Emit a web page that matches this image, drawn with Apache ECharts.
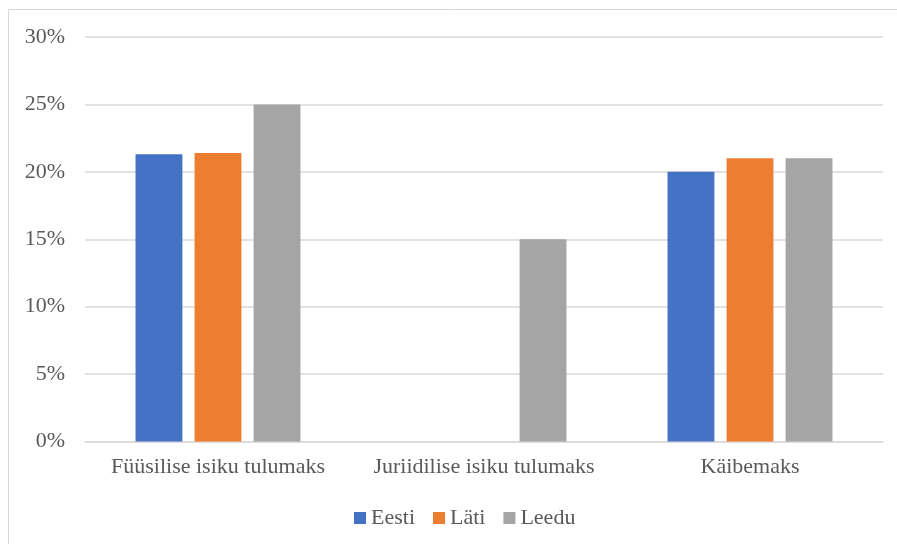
<!DOCTYPE html>
<html><head><meta charset="utf-8">
<script src="https://cdn.jsdelivr.net/npm/echarts@6/dist/echarts.min.js"></script>
<style>html,body{margin:0;padding:0;background:#fff;}#c{width:897px;height:544px;}</style>
</head><body><div id="c"></div>
<script>
const categories = ['Füüsilise isiku tulumaks', 'Juriidilise isiku tulumaks', 'Käibemaks'];
const seriesNames = ['Eesti', 'Läti', 'Leedu'];
const eesti = [21.3, 0, 20];
const lati = [21.4, 0, 21];
const leedu = [25, 15, 21];
const colors = ['#4472C4', '#ED7D31', '#A5A5A5'];

const font = 'Liberation Serif';
const chart = echarts.init(document.getElementById('c'), null, {renderer: 'canvas'});
const values = [eesti, lati, leedu];
chart.setOption({
  animation: false,
  backgroundColor: '#fff',
  graphic: [{type: 'rect', shape: {x: 8.5, y: 9.5, width: 1000, height: 1000}, style: {fill: 'none', stroke: '#D9D9D9', lineWidth: 1}, silent: true}],
  grid: {left: 85, right: 14, top: 37, bottom: 102.5, containLabel: false},
  legend: {
    data: seriesNames, left: 349, top: 502, itemWidth: 12, itemHeight: 12, itemGap: 18,
    icon: 'rect',
    textStyle: {fontFamily: font, fontSize: 22, color: '#595959', padding: [0, 0, 0, 0]}
  },
  xAxis: {
    type: 'category', data: categories,
    axisLine: {lineStyle: {color: '#D9D9D9', width: 1.5}},
    axisTick: {show: false},
    axisLabel: {fontFamily: font, fontSize: 22, color: '#595959', margin: 15, interval: 0}
  },
  yAxis: {
    type: 'value', min: 0, max: 30, interval: 5,
    axisLine: {show: false}, axisTick: {show: false},
    splitLine: {lineStyle: {color: '#D9D9D9', width: 1.5}},
    axisLabel: {fontFamily: font, fontSize: 22, color: '#595959', margin: 20, formatter: v => v + '%'}
  },
  series: seriesNames.map((n, i) => ({
    name: n, type: 'bar', data: values[i].map(v => v === 0 ? null : v),
    itemStyle: {color: colors[i]},
    barCategoryGap: '38%', barGap: '26%'
  }))
});
</script></body></html>
